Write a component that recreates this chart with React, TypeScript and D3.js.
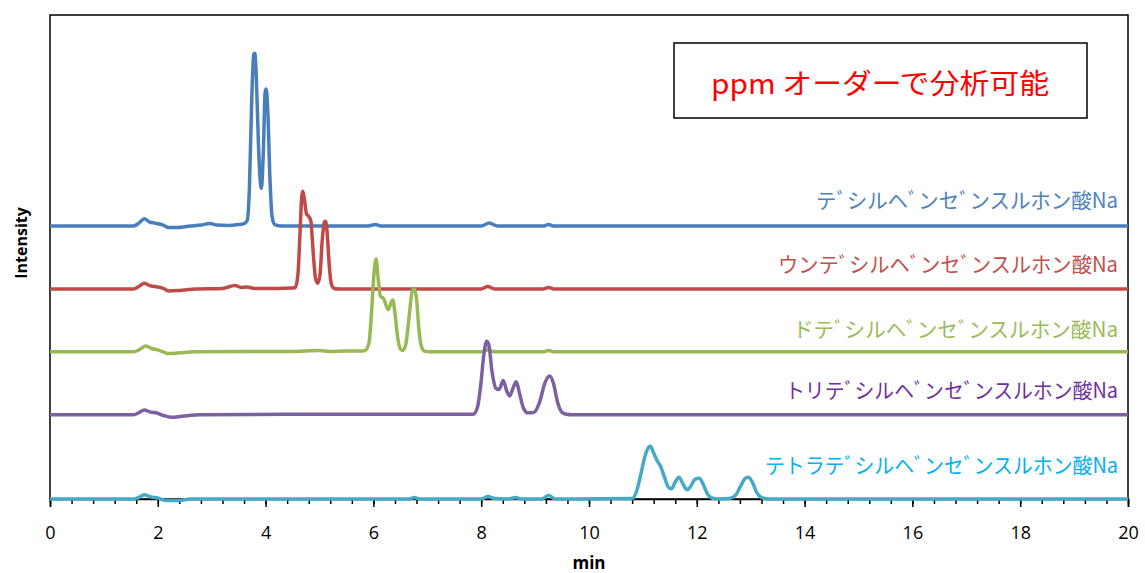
import React, {FC, useEffect, useRef} from 'react';
import * as d3 from 'd3';

// chromatogram traces, [time (min), intensity]
const decylTrace: [number, number][] = [
  [0, 0], [1.55, 0], [1.65, 0.6], [1.75, 1.5], [1.85, 0.8], [1.95, 0.6], [2.1, 0.2],
  [2.2, -0.3], [2.35, -0.3], [2.6, 0], [2.8, 0.2], [2.97, 0.5], [3.1, 0.2], [3.3, 0.1],
  [3.5, 0.3], [3.6, 0.5], [3.66, 1.2], [3.7, 8], [3.74, 25], [3.78, 35.5], [3.8, 35.7],
  [3.83, 30], [3.87, 16], [3.92, 7.8], [3.96, 16], [3.99, 27.5], [4.01, 28.3], [4.04, 24],
  [4.08, 10], [4.12, 2], [4.17, 0.3], [4.3, 0], [5.9, 0], [6.04, 0.3], [6.15, 0],
  [8.0, 0], [8.15, 0.6], [8.3, 0], [9.15, 0], [9.25, 0.3], [9.35, 0], [20, 0],
];
const undecylTrace: [number, number][] = [
  [0, 0], [1.55, 0], [1.65, 0.5], [1.75, 1.2], [1.85, 0.7], [1.95, 0.5], [2.1, 0.1],
  [2.2, -0.4], [2.4, -0.3], [2.7, 0], [3.2, 0.1], [3.43, 0.7], [3.55, 0.3], [3.65, 0.4],
  [3.8, 0.1], [4.2, 0.1], [4.5, 0.2], [4.55, 0.3], [4.6, 3], [4.64, 12], [4.67, 19],
  [4.69, 20.2], [4.72, 18.5], [4.76, 15.5], [4.8, 15], [4.84, 14], [4.88, 8], [4.93, 2],
  [4.97, 1.2], [5.01, 3], [5.05, 10], [5.09, 13.8], [5.11, 14], [5.14, 12], [5.18, 5],
  [5.22, 1], [5.27, 0.1], [5.35, 0], [8.0, 0], [8.12, 0.5], [8.25, 0], [9.15, 0],
  [9.25, 0.3], [9.35, 0], [20, 0],
];
const dodecylTrace: [number, number][] = [
  [0, 0], [1.55, 0], [1.68, 0.6], [1.78, 1.2], [1.88, 0.7], [2.0, 0.4], [2.1, 0],
  [2.2, -0.35], [2.4, -0.2], [2.7, 0], [4.5, 0.1], [5.0, 0.3], [5.2, 0.1], [5.5, 0.2],
  [5.8, 0.2], [5.85, 0.3], [5.92, 2], [5.97, 9], [6.01, 16], [6.05, 19.2], [6.09, 15],
  [6.13, 11.5], [6.19, 11], [6.24, 9.5], [6.28, 8.7], [6.33, 10.3], [6.36, 10.7],
  [6.4, 8], [6.45, 3], [6.5, 0.6], [6.54, 0.3], [6.6, 1.5], [6.66, 7], [6.72, 12.5],
  [6.76, 13], [6.8, 11], [6.85, 4], [6.9, 0.8], [6.96, 0.1], [7.1, 0], [8.0, 0],
  [8.12, 0.4], [8.25, 0], [9.15, 0], [9.25, 0.3], [9.35, 0], [20, 0],
];
const tridecylTrace: [number, number][] = [
  [0, 0], [1.55, 0], [1.66, 0.5], [1.75, 1.0], [1.85, 0.6], [2.0, 0.3], [2.12, -0.2],
  [2.25, -0.5], [2.45, -0.3], [2.8, 0], [5.0, 0.1], [7.8, 0.1], [7.85, 0.1], [7.93, 1.5],
  [7.99, 6], [8.05, 12.5], [8.1, 15.2], [8.14, 14.5], [8.2, 9], [8.27, 5.5], [8.33, 5.2],
  [8.41, 7.1], [8.47, 5], [8.53, 3.9], [8.59, 5.5], [8.65, 6.8], [8.71, 4.5],
  [8.78, 1.5], [8.86, 0.4], [8.98, 0.5], [9.08, 2.5], [9.18, 6.5], [9.27, 8.0],
  [9.34, 6.5], [9.42, 2.5], [9.5, 0.5], [9.58, 0.1], [9.7, 0], [20, 0],
];
const tetradecylTrace: [number, number][] = [
  [0, 0], [1.55, 0], [1.66, 0.4], [1.75, 0.9], [1.85, 0.5], [2.0, 0.2], [2.15, -0.3],
  [2.4, -0.3], [2.6, 0], [6.65, 0], [6.76, 0.3], [6.87, 0], [8.0, 0], [8.13, 0.5],
  [8.25, 0.1], [8.5, 0], [8.64, 0.3], [8.75, 0], [9.12, 0], [9.25, 0.7], [9.38, 0],
  [10.8, 0.1], [10.88, 1.5], [10.95, 4.5], [11.03, 8.5], [11.1, 10.6], [11.14, 10.9],
  [11.2, 9.5], [11.27, 7.8], [11.33, 6.7], [11.4, 4.5], [11.47, 2.5], [11.53, 2.1],
  [11.6, 3.5], [11.67, 4.5], [11.74, 3.2], [11.82, 1.9], [11.88, 2.5], [11.97, 4.1],
  [12.05, 4.3], [12.12, 3], [12.2, 1], [12.28, 0.2], [12.4, 0], [12.6, 0.1],
  [12.72, 0.8], [12.82, 2.8], [12.9, 4.3], [12.96, 4.5], [13.03, 3.5], [13.12, 1.2],
  [13.22, 0.2], [13.35, 0], [20, 0],
];

const traces = [decylTrace, undecylTrace, dodecylTrace, tridecylTrace, tetradecylTrace];
const seriesNames = [
  'テﾞシルヘﾞンセﾞンスルホン酸Na',
  'ウンテﾞシルヘﾞンセﾞンスルホン酸Na',
  'ドテﾞシルヘﾞンセﾞンスルホン酸Na',
  'トリテﾞシルヘﾞンセﾞンスルホン酸Na',
  'テトラテﾞシルヘﾞンセﾞンスルホン酸Na',
];
// vertical stacking offset of each trace (same units as intensity)
const seriesOffsets = [56.4, 43.4, 30.4, 17.4, 0];
const lineColors = ['#4a7ebb', '#be4b48', '#98b954', '#7d60a0', '#46aac5'];
const labelColors = ['#4f81bd', '#c0504d', '#9bbb59', '#7030a0', '#00b0f0'];

const majorTicks = [0, 2, 4, 6, 8, 10, 12, 14, 16, 18, 20];
const minorTicks = d3.range(0, 20.001, 0.4);
const noteText = 'ppm オーダーで分析可能';

const W = 1145;
const H = 573;
const margin = {top: 15, right: 17, bottom: 74, left: 50};
const labelWidths = [302, 340, 325, 333, 353];
const labelGaps = [18, 17, 15, 17, 26];

const Chromatogram: FC = () => {
  const ref = useRef<SVGSVGElement>(null);

  useEffect(() => {
    const root = d3.select(ref.current);
    root.selectAll('*').remove();
    const width = W - margin.left - margin.right;
    const height = H - margin.top - margin.bottom;
    const svg = root.append('g').attr('transform', `translate(${margin.left}, ${margin.top})`);

    const x = d3.scaleLinear().domain([0, 20]).range([0, width]);
    const y = d3.scaleLinear().domain([0, 100]).range([height, 0]);

    // plot frame
    svg.append('rect')
      .attr('width', width)
      .attr('height', height)
      .attr('fill', 'none')
      .attr('stroke', '#000')
      .attr('stroke-width', 1.5);

    // minor ticks
    svg.append('g')
      .attr('transform', `translate(0, ${height})`)
      .call(d3.axisBottom(x).tickValues(minorTicks).tickSize(5).tickFormat(() => ''))
      .call(g => g.select('.domain').remove())
      .call(g => g.selectAll('line').attr('stroke', '#000').attr('stroke-width', 1.5));

    // major ticks + labels
    const xAxis = svg.append('g')
      .attr('transform', `translate(0, ${height})`)
      .call(d3.axisBottom(x).tickValues(majorTicks).tickSize(8).tickFormat(d3.format('d')));
    xAxis.select('.domain').attr('stroke', '#000').attr('stroke-width', 1.5);
    xAxis.selectAll('line').attr('stroke', '#000').attr('stroke-width', 1.5);
    xAxis.selectAll('text')
      .attr('y', 40)
      .attr('dy', 0)
      .attr('fill', '#000')
      .style('font-family', '"Open Sans", sans-serif')
      .style('font-size', '18px');

    svg.append('text')
      .attr('x', width / 2)
      .attr('y', H - margin.top - 4)
      .attr('text-anchor', 'middle')
      .style('font-family', '"Open Sans", sans-serif')
      .style('font-size', '17px')
      .style('font-weight', 'bold')
      .text('min');

    svg.append('text')
      .attr('transform', `translate(${27 - margin.left}, ${228}) rotate(-90)`)
      .attr('text-anchor', 'middle')
      .style('font-family', '"Open Sans", sans-serif')
      .style('font-size', '16px')
      .style('font-weight', 'bold')
      .text('Intensity');

    // traces
    traces.forEach((trace, i) => {
      const line = d3.line<[number, number]>()
        .x(d => x(d[0]))
        .y(d => y(d[1] + seriesOffsets[i]))
        .curve(d3.curveMonotoneX);
      svg.append('path')
        .datum(trace)
        .attr('d', line)
        .attr('fill', 'none')
        .attr('stroke', lineColors[i])
        .attr('stroke-width', 3.5)
        .attr('stroke-linejoin', 'round');

      svg.append('text')
        .attr('x', width - 10)
        .attr('y', y(seriesOffsets[i]) - labelGaps[i])
        .attr('text-anchor', 'end')
        .attr('textLength', labelWidths[i])
        .attr('lengthAdjust', 'spacingAndGlyphs')
        .attr('fill', labelColors[i])
        .style('font-family', '"Noto Sans CJK JP", sans-serif')
        .style('font-size', '21px')
        .text(seriesNames[i]);
    });

    // note box
    const note = svg.append('g').attr('transform', `translate(${674 - margin.left}, ${43 - margin.top})`);
    note.append('rect')
      .attr('width', 413)
      .attr('height', 75)
      .attr('fill', '#fff')
      .attr('stroke', '#000')
      .attr('stroke-width', 1.5);
    note.append('text')
      .attr('x', 206)
      .attr('y', 51)
      .attr('text-anchor', 'middle')
      .attr('textLength', 338)
      .attr('lengthAdjust', 'spacingAndGlyphs')
      .attr('fill', '#ff0000')
      .style('font-family', '"Noto Sans CJK JP", sans-serif')
      .style('font-size', '28px')
      .text(noteText);
  }, []);

  return (
    <svg
      ref={ref}
      width={W}
      height={H}
      style={{position: 'absolute', left: 0, top: 0, background: '#fff'}}
    />
  );
};

export default function App() {
  return <Chromatogram />;
}
